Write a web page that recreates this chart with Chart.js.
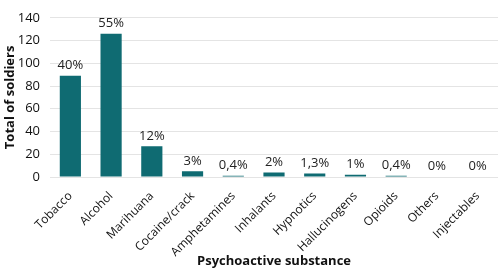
<!DOCTYPE html>
<html>
<head>
<meta charset="utf-8">
<script src="https://cdn.jsdelivr.net/npm/chart.js@4"></script>
<style>
  html, body { margin: 0; padding: 0; background: #fff; }
  #wrap { width: 504px; height: 269px; }
</style>
</head>
<body>
<div id="wrap"><canvas id="barChart"></canvas></div>
<script>
Chart.defaults.font.family = "'Open Sans', sans-serif";
Chart.defaults.color = "#111";

const substances = [
  "Tobacco", "Alcohol", "Marihuana", "Cocaine/crack", "Amphetamines",
  "Inhalants", "Hypnotics", "Hallucinogens", "Opioids", "Others", "Injectables",
];
const soldiers = [89, 126, 27, 5, 1, 4, 3, 2, 1, 0, 0];
const percentLabels = ["40%", "55%", "12%", "3%", "0,4%", "2%", "1,3%", "1%", "0,4%", "0%", "0%"];
const yTicks = [0, 20, 40, 60, 80, 100, 120, 140];

const percentPlugin = {
  id: "percentLabels",
  afterDatasetsDraw(chart) {
    const ctx = chart.ctx;
    const meta = chart.getDatasetMeta(0);
    ctx.save();
    ctx.font = "13px 'Open Sans', sans-serif";
    ctx.fillStyle = "#222";
    ctx.textAlign = "center";
    ctx.textBaseline = "bottom";
    meta.data.forEach((bar, i) => {
      ctx.fillText(percentLabels[i], bar.x, bar.y - 4);
    });
    ctx.restore();
  },
};

function initBarChart() {
  const ctx = document.getElementById("barChart");
  if (!ctx) return;

  new Chart(ctx, {
    type: "bar",
    data: {
      labels: substances,
      datasets: [
        {
          label: "Total of soldiers",
          data: soldiers,
          backgroundColor: "#0f6b72",
          barPercentage: 0.52,
          categoryPercentage: 1,
        },
      ],
    },
    plugins: [percentPlugin],
    options: {
      responsive: true,
      maintainAspectRatio: false,
      animation: false,
      layout: { padding: { top: 8, right: 6, left: 2, bottom: 0 } },
      plugins: {
        legend: { display: false },
        tooltip: { enabled: false },
      },
      scales: {
        y: {
          min: 0,
          max: 140,
          afterBuildTicks: (axis) => {
            axis.ticks = yTicks.map((v) => ({ value: v }));
          },
          afterFit: (scale) => {
            scale.width = 48;
          },
          ticks: { font: { size: 13 }, color: "#111", padding: 10 },
          border: { display: false },
          grid: { color: "#e4e4e4", drawTicks: false },
          title: {
            display: true,
            text: "Total of soldiers",
            font: { size: 13, weight: "bold" },
            color: "#111",
            padding: { top: 0, bottom: 0 },
          },
        },
        x: {
          afterFit: (scale) => {
            scale.height = 92;
          },
          ticks: {
            font: { size: 12 },
            color: "#111",
            minRotation: 45,
            maxRotation: 45,
            padding: 4,
          },
          border: { display: false },
          grid: { display: false },
          title: {
            display: true,
            text: "Psychoactive substance",
            font: { size: 13, weight: "bold" },
            color: "#111",
            padding: { top: 0, bottom: 0 },
          },
        },
      },
    },
  });
}

document.addEventListener("DOMContentLoaded", function () {
  initBarChart();
});
</script>
</body>
</html>
